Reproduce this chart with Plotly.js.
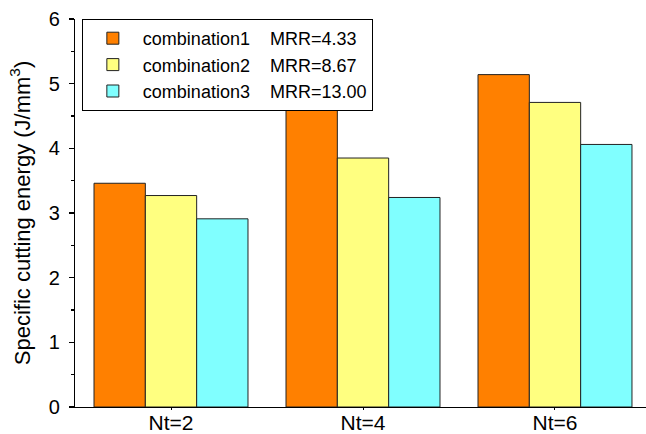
<!DOCTYPE html>
<html>
<head>
<meta charset="utf-8">
<script src="https://cdn.plot.ly/plotly-3.0.1.min.js"></script>
<style>html,body{margin:0;padding:0;background:#fff;}#chart{width:646px;height:434px;}</style>
</head>
<body>
<div id="chart"></div>
<script>
const categories = ["Nt=2", "Nt=4", "Nt=6"];
const seriesNames = ["combination1\u00A0\u00A0\u00A0\u00A0MRR=4.33", "combination2\u00A0\u00A0\u00A0\u00A0MRR=8.67", "combination3\u00A0\u00A0\u00A0\u00A0MRR=13.00"];
const combination1 = [3.46, 4.70, 5.14];
const combination2 = [3.27, 3.85, 4.71];
const combination3 = [2.91, 3.24, 4.06];
const colors = ["#FF8000", "#FFFF80", "#80FFFF"];
const yTitle = "Specific cutting energy (J/mm<sup>3</sup>)";

const allValues = [combination1, combination2, combination3];
const traces = allValues.map((vals, i) => ({
  type: "bar",
  x: categories,
  y: vals,
  name: seriesNames[i],
  marker: {color: colors[i], line: {color: "#222", width: 1}}
}));

const fam = "Liberation Sans, Arial, sans-serif";
const layout = {
  width: 646, height: 434,
  margin: {l: 75, r: 0, t: 19, b: 27},
  paper_bgcolor: "#fff", plot_bgcolor: "#fff",
  font: {family: fam, size: 18, color: "#000"},
  barmode: "group",
  bargap: 0.198,
  bargroupgap: 0,
  showlegend: true,
  legend: {
    x: 0.012, y: 1, xanchor: "left", yanchor: "top",
    bordercolor: "#000", borderwidth: 1, bgcolor: "#fff",
    font: {family: fam, size: 18, color: "#000"},
    itemwidth: 50
  },
  xaxis: {
    type: "category",
    range: [-0.5, 2.474],
    showline: true, linecolor: "#000", linewidth: 1.2,
    ticks: "outside", ticklen: 2, tickcolor: "#000",
    ticklabelstandoff: -5,
    showgrid: false, zeroline: false,
    tickfont: {family: fam, size: 21, color: "#000"}
  },
  xaxis2: {
    overlaying: "x", anchor: "y", side: "bottom",
    range: [-0.5, 2.474],
    tickmode: "array", tickvals: [0.5, 1.5], showticklabels: false,
    ticks: "outside", ticklen: 2, tickcolor: "#000",
    showline: false, showgrid: false, zeroline: false
  },
  yaxis: {
    range: [0, 6], dtick: 1,
    showline: true, linecolor: "#000", linewidth: 1.2,
    ticks: "outside", ticklen: 5, tickcolor: "#000", tickwidth: 1.2,
    ticklabelstandoff: 5,
    minor: {dtick: 0.5, ticks: "outside", ticklen: 3, tickcolor: "#000", showgrid: false},
    showgrid: false, zeroline: false,
    tickfont: {family: fam, size: 20, color: "#000"},
    title: {text: yTitle, font: {family: fam, size: 22, color: "#000"}, standoff: 12}
  }
};

Plotly.newPlot("chart", traces, layout, {displayModeBar: false, staticPlot: true});
</script>
</body>
</html>
